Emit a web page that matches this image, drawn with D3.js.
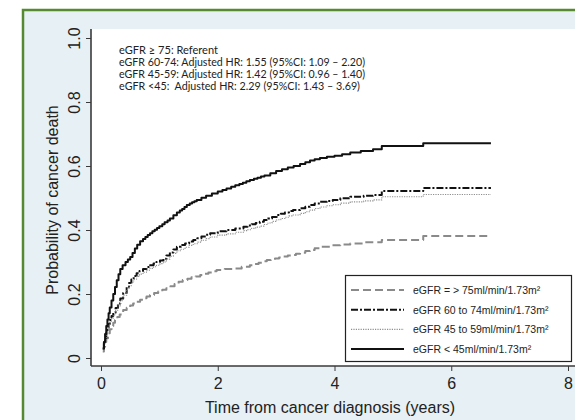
<!DOCTYPE html>
<html>
<head>
<meta charset="utf-8">
<script src="https://cdn.jsdelivr.net/npm/d3@7"></script>
<style>
  html, body { margin: 0; padding: 0; background: #ffffff; }
  svg { display: block; }
</style>
</head>
<body>
<svg id="chart" width="575" height="420"></svg>
<script>
// Cumulative incidence of cancer death by eGFR group (step curves)
const xTicks = [0, 2, 4, 6, 8];
const yTicks = [0, 0.2, 0.4, 0.6, 0.8, 1.0];
const yTickLabels = ["0", "0.2", "0.4", "0.6", "0.8", "1.0"];

const groups = ["ge75", "g60_74", "g45_59", "lt45"];
const legendLabels = [
  "eGFR = > 75ml/min/1.73m\u00b2",
  "eGFR 60 to 74ml/min/1.73m\u00b2",
  "eGFR 45 to 59ml/min/1.73m\u00b2",
  "eGFR < 45ml/min/1.73m\u00b2"
];
const noteLines = [
  "eGFR \u2265 75: Referent",
  "eGFR 60-74: Adjusted HR: 1.55 (95%CI: 1.09 \u2013 2.20)",
  "eGFR 45-59: Adjusted HR: 1.42 (95%CI: 0.96 \u2013 1.40)",
  "eGFR <45:  Adjusted HR: 2.29 (95%CI: 1.43 \u2013 3.69)"
];
const noteWidths = [99, 246, 246, 241];

// time (years) and cumulative probability for each group
const timeGe75 = [0.03, 0.05, 0.07, 0.09, 0.12, 0.15, 0.18, 0.21, 0.24, 0.28, 0.32, 0.38, 0.44, 0.5, 0.55, 0.61, 0.67, 0.72, 0.78, 0.84, 0.91, 0.98, 1.05, 1.12, 1.19, 1.26, 1.33, 1.4, 1.48, 1.55, 1.62, 1.7, 1.77, 1.84, 1.91, 1.98, 2.12, 2.27, 2.41, 2.55, 2.62, 2.7, 2.77, 2.84, 2.91, 2.98, 3.05, 3.12, 3.2, 3.27, 3.34, 3.41, 3.5, 3.58, 3.66, 3.75, 3.95, 4.1, 4.27, 4.5, 4.81, 5.52, 6.68];
const probGe75 = [0.02, 0.035, 0.05, 0.062, 0.077, 0.09, 0.1, 0.11, 0.119, 0.128, 0.136, 0.15, 0.157, 0.164, 0.17, 0.176, 0.182, 0.187, 0.192, 0.197, 0.203, 0.208, 0.213, 0.218, 0.224, 0.231, 0.238, 0.244, 0.248, 0.252, 0.255, 0.259, 0.263, 0.267, 0.271, 0.275, 0.278, 0.28, 0.285, 0.29, 0.294, 0.298, 0.302, 0.306, 0.309, 0.311, 0.314, 0.317, 0.32, 0.322, 0.326, 0.329, 0.334, 0.3375, 0.343, 0.348, 0.352, 0.355, 0.358, 0.362, 0.369, 0.381, 0.381];

const time60 = [0.03, 0.05, 0.07, 0.09, 0.11, 0.13, 0.15, 0.18, 0.21, 0.25, 0.29, 0.33, 0.38, 0.44, 0.48, 0.52, 0.56, 0.61, 0.66, 0.72, 0.78, 0.84, 0.9, 0.95, 1.01, 1.07, 1.12, 1.18, 1.24, 1.3, 1.37, 1.44, 1.51, 1.58, 1.65, 1.72, 1.8, 1.87, 2.0, 2.15, 2.3, 2.44, 2.51, 2.58, 2.65, 2.72, 2.79, 2.86, 2.93, 3.01, 3.08, 3.15, 3.22, 3.29, 3.41, 3.5, 3.58, 3.66, 3.75, 3.87, 3.97, 4.1, 4.27, 4.5, 4.66, 4.81, 5.52, 6.68];
const prob60 = [0.03, 0.045, 0.062, 0.078, 0.092, 0.106, 0.119, 0.131, 0.142, 0.156, 0.17, 0.186, 0.203, 0.223, 0.234, 0.245, 0.256, 0.265, 0.272, 0.278, 0.284, 0.29, 0.295, 0.3, 0.305, 0.31, 0.32, 0.33, 0.339, 0.348, 0.353, 0.358, 0.364, 0.369, 0.374, 0.38, 0.385, 0.39, 0.396, 0.4, 0.405, 0.41, 0.414, 0.418, 0.422, 0.426, 0.431, 0.436, 0.441, 0.447, 0.451, 0.455, 0.459, 0.4625, 0.468, 0.473, 0.478, 0.483, 0.488, 0.491, 0.494, 0.499, 0.504, 0.507, 0.509, 0.522, 0.531, 0.531];

const time45 = [0.03, 0.05, 0.07, 0.09, 0.11, 0.13, 0.15, 0.18, 0.21, 0.25, 0.29, 0.33, 0.38, 0.44, 0.48, 0.52, 0.56, 0.61, 0.66, 0.72, 0.78, 0.84, 0.9, 0.95, 1.01, 1.07, 1.12, 1.18, 1.24, 1.3, 1.37, 1.44, 1.51, 1.58, 1.65, 1.72, 1.8, 1.87, 2.0, 2.15, 2.3, 2.44, 2.51, 2.58, 2.65, 2.72, 2.79, 2.86, 2.93, 3.01, 3.08, 3.15, 3.22, 3.29, 3.41, 3.5, 3.58, 3.66, 3.75, 3.87, 3.97, 4.1, 4.27, 4.5, 4.66, 4.81, 5.52, 6.68];
const prob45 = [0.028, 0.042, 0.058, 0.073, 0.087, 0.1, 0.112, 0.124, 0.135, 0.149, 0.163, 0.179, 0.196, 0.215, 0.226, 0.236, 0.246, 0.255, 0.262, 0.268, 0.274, 0.28, 0.285, 0.29, 0.295, 0.3, 0.309, 0.318, 0.327, 0.335, 0.34, 0.346, 0.352, 0.357, 0.362, 0.368, 0.373, 0.378, 0.384, 0.388, 0.393, 0.398, 0.401, 0.405, 0.409, 0.412, 0.417, 0.422, 0.427, 0.432, 0.436, 0.44, 0.444, 0.447, 0.452, 0.457, 0.462, 0.467, 0.472, 0.476, 0.479, 0.484, 0.488, 0.491, 0.494, 0.504, 0.511, 0.511];

const timeLt45 = [0.03, 0.05, 0.07, 0.09, 0.11, 0.13, 0.15, 0.18, 0.21, 0.24, 0.27, 0.3, 0.33, 0.37, 0.42, 0.46, 0.5, 0.54, 0.58, 0.62, 0.67, 0.72, 0.76, 0.8, 0.84, 0.88, 0.92, 0.96, 1.0, 1.05, 1.09, 1.14, 1.18, 1.24, 1.3, 1.35, 1.39, 1.43, 1.47, 1.52, 1.56, 1.6, 1.64, 1.72, 1.8, 1.9, 2.0, 2.08, 2.15, 2.23, 2.3, 2.37, 2.43, 2.49, 2.55, 2.62, 2.68, 2.74, 2.8, 2.9, 3.0, 3.1, 3.2, 3.3, 3.41, 3.5, 3.58, 3.66, 3.75, 3.87, 4.0, 4.13, 4.27, 4.45, 4.66, 4.81, 5.52, 6.68];
const probLt45 = [0.03, 0.05, 0.075, 0.1, 0.12, 0.14, 0.158, 0.18, 0.2, 0.222, 0.243, 0.262, 0.278, 0.29, 0.3, 0.308, 0.316, 0.328, 0.342, 0.354, 0.365, 0.372, 0.378, 0.384, 0.39, 0.396, 0.401, 0.406, 0.412, 0.418, 0.424, 0.43, 0.436, 0.446, 0.455, 0.461, 0.466, 0.472, 0.478, 0.483, 0.487, 0.49, 0.494, 0.501, 0.507, 0.514, 0.52, 0.525, 0.53, 0.535, 0.54, 0.544, 0.548, 0.552, 0.556, 0.56, 0.563, 0.567, 0.57, 0.577, 0.584, 0.59, 0.595, 0.6, 0.606, 0.612, 0.617, 0.621, 0.625, 0.629, 0.632, 0.637, 0.642, 0.647, 0.652, 0.6625, 0.671, 0.671];

const seriesTimes = [timeGe75, time60, time45, timeLt45];
const seriesProbs = [probGe75, prob60, prob45, probLt45];

const styles = {
  ge75:   { stroke: "#8a8a8a", width: 2,   dash: "8,4" },
  g60_74: { stroke: "#111111", width: 2,   dash: "7,2,2,2" },
  g45_59: { stroke: "#8f8f8f", width: 1.1, dash: "1.2,1.2" },
  lt45:   { stroke: "#111111", width: 2,   dash: null }
};

const svg = d3.select("#chart");

// page background and framed panel
svg.append("rect").attr("x", 0).attr("y", 0).attr("width", 575).attr("height", 420).attr("fill", "#ffffff");
svg.append("rect").attr("x", 23).attr("y", 10).attr("width", 560).attr("height", 420)
  .attr("fill", "#e7f0f4").attr("stroke", "#558a31").attr("stroke-width", 2.5);

// plot region
const plotLeft = 91, plotTop = 29, plotRight = 575, plotBottom = 366;
svg.append("rect").attr("x", plotLeft).attr("y", plotTop)
  .attr("width", plotRight - plotLeft).attr("height", plotBottom - plotTop)
  .attr("fill", "#ffffff");

const x = d3.scaleLinear().domain([0, 8]).range([101, 568]);
const y = d3.scaleLinear().domain([0, 1]).range([358, 38]);

// axes
const yAxis = d3.axisLeft(y).tickValues(yTicks).tickSize(5).tickPadding(4)
  .tickFormat((d, i) => yTickLabels[i]);
const gy = svg.append("g").attr("transform", `translate(${plotLeft},0)`).call(yAxis);
gy.select(".domain").remove();
gy.selectAll(".tick line").attr("stroke", "#3a3a3a").attr("stroke-width", 1);
gy.selectAll(".tick text")
  .attr("font-family", "Liberation Sans, Arial, sans-serif").attr("font-size", 16).attr("fill", "#222")
  .attr("x", 0).attr("y", 0).attr("text-anchor", "middle").attr("dy", "0.35em")
  .attr("transform", "translate(-17,0) rotate(-90)");

const xAxis = d3.axisBottom(x).tickValues(xTicks).tickSize(5).tickPadding(7).tickFormat(d3.format("d"));
const gx = svg.append("g").attr("transform", `translate(0,${plotBottom})`).call(xAxis);
gx.select(".domain").remove();
gx.selectAll(".tick line").attr("stroke", "#3a3a3a").attr("stroke-width", 1);
gx.selectAll(".tick text")
  .attr("font-family", "Liberation Sans, Arial, sans-serif").attr("font-size", 16).attr("fill", "#222");

// axis lines
svg.append("line").attr("x1", plotLeft).attr("x2", plotLeft).attr("y1", plotTop).attr("y2", plotBottom)
  .attr("stroke", "#3a3a3a").attr("stroke-width", 1.6);
svg.append("line").attr("x1", plotLeft).attr("x2", plotRight).attr("y1", plotBottom).attr("y2", plotBottom)
  .attr("stroke", "#3a3a3a").attr("stroke-width", 1.6);

// axis titles
svg.append("text").attr("transform", `translate(52,200) rotate(-90)`)
  .attr("text-anchor", "middle").attr("dy", "0.35em").attr("font-family", "Liberation Sans, Arial, sans-serif")
  .attr("font-size", 16).attr("fill", "#222").text("Probability of cancer death");
svg.append("text").attr("x", 330).attr("y", 413)
  .attr("text-anchor", "middle").attr("font-family", "Liberation Sans, Arial, sans-serif")
  .attr("font-size", 16).attr("fill", "#222").text("Time from cancer diagnosis (years)");

// curves
const line = d3.line().x(d => x(d[0])).y(d => y(d[1])).curve(d3.curveStepAfter);
groups.forEach((g, i) => {
  const pts = seriesTimes[i].map((t, j) => [t, seriesProbs[i][j]]);
  const st = styles[g];
  svg.append("path").datum(pts).attr("d", line)
    .attr("fill", "none").attr("stroke", st.stroke).attr("stroke-width", st.width)
    .attr("stroke-dasharray", st.dash).attr("stroke-linejoin", "round");
});

// hazard ratio notes
const notes = svg.append("g").attr("font-family", "Lato, Carlito, sans-serif").attr("font-size", 10.5).attr("fill", "#222");
noteLines.forEach((t, i) => {
  notes.append("text").attr("x", 119).attr("y", 53.5 + i * 12.3)
    .attr("xml:space", "preserve").style("white-space", "pre")
    .attr("textLength", noteWidths[i]).attr("lengthAdjust", "spacingAndGlyphs")
    .text(t);
});

// legend
const lg = svg.append("g");
lg.append("rect").attr("x", 345.5).attr("y", 275.5).attr("width", 226).attr("height", 86)
  .attr("fill", "#ffffff").attr("stroke", "#222").attr("stroke-width", 1.2);
groups.forEach((g, i) => {
  const yy = 290 + i * 19.7;
  const st = styles[g];
  lg.append("line").attr("x1", 351).attr("x2", 404).attr("y1", yy).attr("y2", yy)
    .attr("stroke", st.stroke).attr("stroke-width", st.width).attr("stroke-dasharray", st.dash);
  lg.append("text").attr("x", 413).attr("y", yy + 4)
    .attr("font-family", "Liberation Sans, Arial, sans-serif").attr("font-size", 10.5).attr("fill", "#222")
    .text(legendLabels[i]);
});
</script>
</body>
</html>
